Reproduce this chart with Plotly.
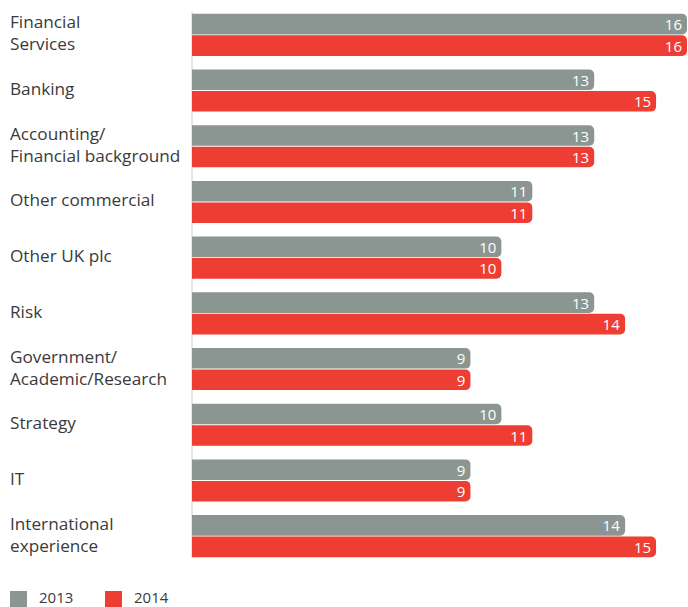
import plotly.graph_objects as go

# Categories (top to bottom) and values per year
categories = [
    "Financial<br>Services",
    "Banking",
    "Accounting/<br>Financial background",
    "Other commercial",
    "Other UK plc",
    "Risk",
    "Government/<br>Academic/Research",
    "Strategy",
    "IT",
    "International<br>experience",
]
years = ["2013", "2014"]
values_2013 = [16, 13, 13, 11, 10, 13, 9, 10, 9, 14]
values_2014 = [16, 15, 13, 11, 10, 14, 9, 11, 9, 15]

GRAY = "#8b9692"
RED = "#ee3d33"
FONT = "Open Sans"
TEXT = "#3a3a3a"

fig = go.Figure()

for name, vals, col in zip(years, [values_2013, values_2014], [GRAY, RED]):
    fig.add_trace(
        go.Bar(
            name=name,
            y=categories,
            x=vals,
            orientation="h",
            marker=dict(color=col, line=dict(width=0)),
            text=vals,
            textposition="inside",
            insidetextanchor="end",
            textangle=0,
            constraintext="none",
            cliponaxis=False,
            textfont=dict(color="white", size=15, family=FONT),
            hoverinfo="skip",
        )
    )

# Left-aligned category labels
for cat in categories:
    fig.add_annotation(
        x=-0.372, xref="paper", y=cat, yref="y",
        text=cat, showarrow=False,
        xanchor="left", yanchor="middle", align="left",
        font=dict(size=17.2, color=TEXT, family=FONT),
        yshift=2,
    )

# plot area: x 192..687 px, y 7..564 px -> helpers to place decorations
def px_x(p):
    return (p - 192) / 495


def px_y(p):
    return (564 - p) / 557


# thin baseline at the start of the bars
fig.add_shape(
    type="line", xref="paper", yref="paper",
    x0=0, x1=0, y0=px_y(558), y1=px_y(12),
    line=dict(color="#cccccc", width=1),
    layer="below",
)

# Legend drawn by hand (square swatches + labels)
for i, (name, col) in enumerate(zip(years, [GRAY, RED])):
    x0 = 10 + i * 95
    fig.add_shape(
        type="rect", xref="paper", yref="paper",
        x0=px_x(x0), x1=px_x(x0 + 17), y0=px_y(607), y1=px_y(591),
        fillcolor=col, line=dict(width=0),
    )
    fig.add_annotation(
        x=px_x(x0 + 27), xref="paper", y=px_y(597), yref="paper",
        text=name, showarrow=False, xanchor="left", yanchor="middle",
        font=dict(size=15, color=TEXT, family=FONT),
    )

fig.update_layout(
    width=688,
    height=607,
    autosize=False,
    margin=dict(l=192, r=1, t=7, b=43, autoexpand=False),
    barmode="group",
    bargap=0.228,
    bargroupgap=0.04,
    barcornerradius=5,
    uniformtext=dict(minsize=15, mode="show"),
    showlegend=False,
    plot_bgcolor="white",
    paper_bgcolor="white",
    font=dict(family=FONT, color=TEXT),
    xaxis=dict(range=[0, 16], visible=False),
    yaxis=dict(
        autorange="reversed",
        showticklabels=False,
        showgrid=False,
        showline=False,
        zeroline=False,
        ticks="",
    ),
)

fig.write_html(
    "out.html",
    config={"displayModeBar": False},
    post_script="document.body.style.margin='0';",
)
